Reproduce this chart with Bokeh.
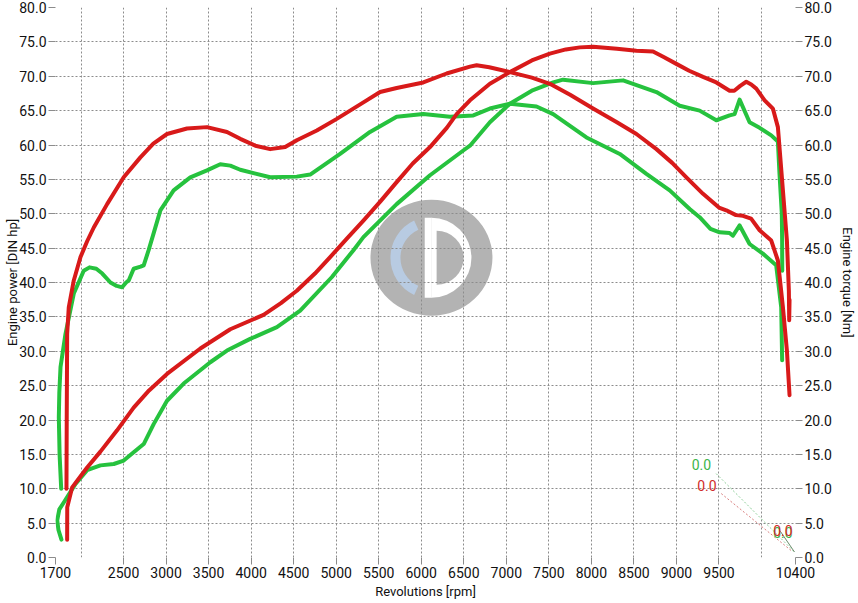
from bokeh.plotting import figure
from bokeh.models import LinearAxis, FixedTicker, NumeralTickFormatter, Range1d
from bokeh.core.properties import value
from bokeh.embed import file_html
from bokeh.resources import INLINE

# ---------------- data ----------------
X_TICKS = [1700, 2500, 3000, 3500, 4000, 4500, 5000, 5500, 6000, 6500, 7000,
           7500, 8000, 8500, 9000, 9500, 10400]
X_GRID = [2000, 2500, 3000, 3500, 4000, 4500, 5000, 5500, 6000, 6500, 7000,
          7500, 8000, 8500, 9000, 9500, 10000]
Y_TICKS = [0, 5, 10, 15, 20, 25, 30, 35, 40, 45, 50, 55, 60, 65, 70, 75, 80]
Y_GRID = [5, 10, 15, 20, 25, 30, 35, 40, 45, 50, 55, 60, 65, 70, 75]

X_LABEL = "Revolutions [rpm]"
Y_LABEL_LEFT = "Engine power [DIN hp]"
Y_LABEL_RIGHT = "Engine torque [Nm]"

# red run - torque
red_torque_rpm = [1829, 1832, 1837, 1856, 1915, 1994, 2072, 2150, 2307, 2502, 2698, 2850,
                  3011, 3246, 3481, 3716, 3872, 4050, 4224, 4400, 4537, 4772, 5007, 5320,
                  5516, 5711, 6024, 6298, 6573, 6651, 6800, 7042, 7300, 7512, 7750, 8020,
                  8300, 8530, 8765, 8950, 9117, 9313, 9500, 9586, 9700, 9782, 9878, 9978,
                  10115, 10193, 10252, 10299, 10330]
red_torque = [10.0, 20.0, 32.5, 36.4, 40.3, 43.7, 46.0, 48.0, 51.4, 55.3, 58.2, 60.2,
              61.6, 62.4, 62.6, 61.9, 60.9, 59.9, 59.4, 59.7, 60.7, 62.1, 63.8, 66.2,
              67.7, 68.3, 69.1, 70.4, 71.4, 71.6, 71.3, 70.6, 69.8, 68.9, 67.3, 65.3,
              63.3, 61.6, 59.4, 57.4, 55.3, 52.9, 50.9, 50.5, 49.8, 49.7, 49.3, 47.6,
              46.1, 43.2, 36.4, 30.1, 23.6]

# red run - power
red_power_rpm = [1837, 1838, 1896, 2072, 2228, 2424, 2619, 2800, 3011, 3403, 3755, 4146, 4350,
                 4537, 4750, 4929, 5120, 5320, 5520, 5711, 5900, 6103, 6300, 6416, 6573,
                 6807, 7042, 7300, 7512, 7700, 7864, 8020, 8300, 8530, 8725, 8850, 8999,
                 9150, 9313, 9469, 9625, 9680, 9750, 9821, 9880, 9939, 10037, 10134,
                 10193, 10252, 10299, 10322, 10326, 10330]
red_power = [2.6, 7.3, 10.2, 13.1, 15.4, 18.5, 21.8, 24.3, 26.7, 30.4, 33.2, 35.3, 37.0,
             38.8, 41.3, 43.7, 46.3, 49.0, 51.8, 54.6, 57.3, 59.7, 62.5, 64.5, 66.5,
             68.9, 70.6, 72.3, 73.3, 73.9, 74.2, 74.3, 74.0, 73.7, 73.6, 72.8, 71.8,
             70.8, 69.9, 69.1, 67.9, 67.9, 68.6, 69.2, 68.8, 68.2, 66.5, 65.3,
             62.6, 53.4, 46.1, 38.8, 34.5, 37.5]

# green run - torque
green_torque_rpm = [1767, 1748, 1739, 1745, 1759, 1817, 1915, 2032, 2100, 2180, 2250, 2346,
                    2420, 2483, 2530, 2561, 2619, 2700, 2737, 2795, 2850, 2933, 3089, 3285,
                    3481, 3637, 3755, 3872, 4224, 4537, 4694, 5046, 5398, 5711, 6024, 6338,
                    6612, 6807, 7042, 7355, 7551, 7942, 8334, 8647, 8921, 9156, 9273, 9400,
                    9508, 9625, 9664, 9743, 9860, 10016, 10173, 10232, 10243]
green_torque = [10.0, 15.0, 20.4, 24.0, 27.7, 32.5, 38.4, 41.7, 42.2, 42.0, 41.3, 40.0,
                39.5, 39.3, 40.0, 40.3, 42.0, 42.3, 42.5, 44.7, 47.0, 50.5, 53.4, 55.3,
                56.3, 57.2, 57.0, 56.4, 55.3, 55.4, 55.7, 58.7, 61.9, 64.1, 64.5, 64.1,
                64.3, 65.3, 66.0, 65.6, 64.5, 61.1, 58.7, 55.8, 53.4, 50.7, 49.5, 47.8,
                47.3, 47.2, 46.8, 48.3, 45.6, 44.2, 42.5, 36.4, 28.7]

# green run - power
green_power_rpm = [1770, 1735, 1720, 1745, 1797, 1935, 2072, 2228, 2385, 2502, 2619, 2737,
                   2854, 3011, 3207, 3520, 3716, 3989, 4303, 4577, 4950, 5203, 5320, 5711,
                   6103, 6494, 6573, 6807, 7042, 7300, 7551, 7668, 8020, 8373, 8765, 9039,
                   9273, 9469, 9625, 9684, 9743, 9860, 9978, 10115, 10193, 10212, 10239,
                   10243, 10244]
green_power = [2.6, 4.0, 5.4, 7.0, 8.0, 10.7, 12.7, 13.4, 13.6, 14.1, 15.3, 16.5,
               19.4, 22.8, 25.3, 28.4, 30.1, 31.8, 33.5, 35.9, 40.8, 44.7, 46.6, 51.4,
               55.6, 59.2, 59.9, 63.3, 66.0, 67.9, 69.1, 69.5, 69.0, 69.4, 67.7, 65.7,
               65.0, 63.6, 64.3, 64.5, 66.6, 63.3, 62.5, 61.4, 60.5, 55.8, 50.0,
               46.1, 41.7]

# bottom-right markers
ann_green_x = [9467, 10388]
ann_green_y = [12.2, 0.8]
ann_red_x = [9527, 10350]
ann_red_y = [9.3, 1.0]
ann_dark_x = [10217, 10388]
ann_dark_y = [3.9, 0.8]
ann_text_green_x = [9293, 10252]
ann_text_green_y = [13.6, 3.6]
ann_text_red_x = [9359, 10252]
ann_text_red_y = [10.5, 3.9]
ann_text = ["0.0", "0.0"]

# watermark position (data coords)
LOGO_X = 6120
LOGO_Y = 43.6

RED = "#d81a1a"
GREEN = "#26c23e"
FONT = "Roboto"
TXT = "#111111"

p = figure(width=857, height=602, x_range=Range1d(1700, 10400), y_range=Range1d(0, 80),
           output_backend="svg", toolbar_location=None,
           min_border_top=7, min_border_left=55, min_border_right=61, min_border_bottom=45)
p.outline_line_color = None
p.background_fill_color = "white"
p.border_fill_color = "white"

# ---- watermark ----
GRAY = "#b3b3b3"
r1 = p.ellipse(x=LOGO_X, y=LOGO_Y, width=122, height=116, width_units="screen",
               height_units="screen", fill_color=GRAY, line_color=None)
r2 = p.annular_wedge(x=LOGO_X, y=LOGO_Y, inner_radius=31, outer_radius=41,
                     inner_radius_units="screen", outer_radius_units="screen",
                     start_angle=115, end_angle=245, start_angle_units="deg",
                     end_angle_units="deg", fill_color="#b8cbe2", line_color=None)
r3 = p.wedge(x=LOGO_X, y=LOGO_Y, radius=40, radius_units="screen",
             start_angle=-90, end_angle=90, start_angle_units="deg", end_angle_units="deg",
             fill_color="white", line_color=None)
r4 = p.rect(x=LOGO_X - 38, y=LOGO_Y, width=7, height=80, width_units="screen",
            height_units="screen", fill_color="white", line_color=None)
r5 = p.wedge(x=LOGO_X + 61, y=LOGO_Y, radius=27, radius_units="screen",
             start_angle=-90, end_angle=90, start_angle_units="deg", end_angle_units="deg",
             fill_color=GRAY, line_color=None)
for r in (r1, r2, r3, r4, r5):
    r.level = "image"

# ---- curves ----
for xs, ys, c in ((green_torque_rpm, green_torque, GREEN), (green_power_rpm, green_power, GREEN),
                  (red_torque_rpm, red_torque, RED), (red_power_rpm, red_power, RED)):
    p.line(xs, ys, line_color=c, line_width=4, line_join="round", line_cap="round")

# ---- bottom-right markers ----
p.line(ann_green_x, ann_green_y, line_color="#8fcf9a", line_width=1, line_dash="2 2")
p.line(ann_red_x, ann_red_y, line_color="#d98080", line_width=1, line_dash="2 2")
p.line(ann_dark_x, ann_dark_y, line_color="#6a8a6a", line_width=1)
p.text(ann_text_green_x, ann_text_green_y, text=ann_text, text_color="#3cb54a",
       text_font=value(FONT), text_font_size="14px", text_align="center", text_baseline="middle")
p.text(ann_text_red_x, ann_text_red_y, text=ann_text, text_color="#d02a2a",
       text_font=value(FONT), text_font_size="14px", text_align="center", text_baseline="middle")

# ---- grid ----
p.xgrid.ticker = FixedTicker(ticks=X_GRID)
p.ygrid.ticker = FixedTicker(ticks=Y_GRID)
for g in (p.xgrid[0], p.ygrid[0]):
    g.grid_line_color = "#8c8c8c"
    g.grid_line_dash = "2 2"
    g.grid_line_width = 1

# ---- axes ----
def style_axis(ax, label, label_standoff, tick_standoff):
    ax.axis_line_color = None
    ax.major_tick_line_color = "#8c8c8c"
    ax.major_tick_in = 0
    ax.major_tick_out = 7
    ax.minor_tick_line_color = None
    ax.major_label_text_font = FONT
    ax.major_label_text_font_size = "14px"
    ax.major_label_text_color = TXT
    ax.major_label_standoff = tick_standoff
    ax.axis_label = label
    ax.axis_label_text_font = FONT
    ax.axis_label_text_font_size = "13px"
    ax.axis_label_text_font_style = "normal"
    ax.axis_label_text_color = TXT
    ax.axis_label_standoff = label_standoff

xa = p.xaxis[0]
xa.ticker = FixedTicker(ticks=X_TICKS)
style_axis(xa, X_LABEL, 3, 2)

ya = p.yaxis[0]
ya.ticker = FixedTicker(ticks=Y_TICKS)
ya.formatter = NumeralTickFormatter(format="0.0")
style_axis(ya, Y_LABEL_LEFT, -4, 2)

ra = LinearAxis(ticker=FixedTicker(ticks=Y_TICKS), formatter=NumeralTickFormatter(format="0.0"))
style_axis(ra, Y_LABEL_RIGHT, 5, 2)
p.add_layout(ra, "right")

open("out.html", "w").write(file_html(p, INLINE))
